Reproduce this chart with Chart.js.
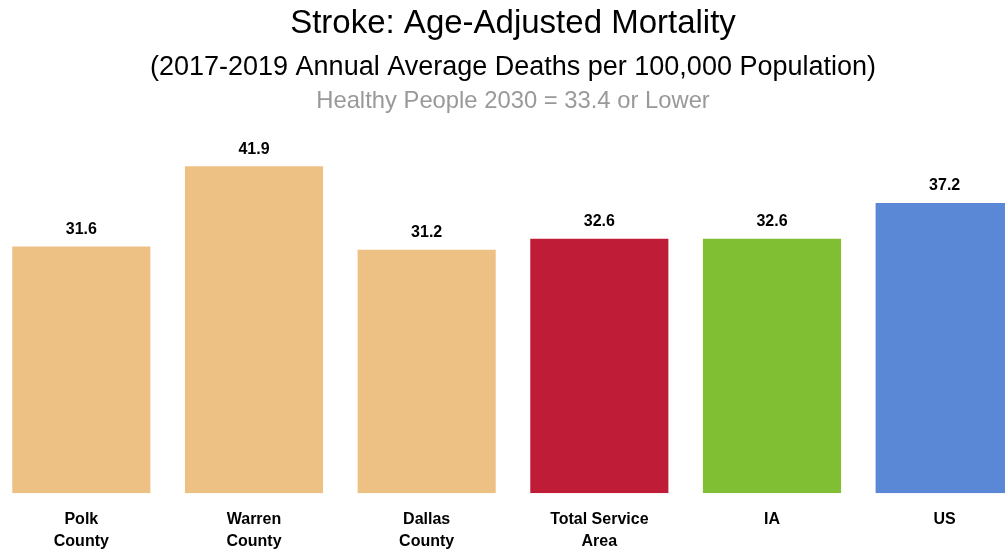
<!DOCTYPE html>
<html>
<head>
<meta charset="utf-8">
<script src="https://cdn.jsdelivr.net/npm/chart.js@4/dist/chart.umd.min.js"></script>
<style>
  html, body { margin: 0; padding: 0; overflow: hidden; background: #fff; }
  #wrap { position: absolute; left: -5px; top: 0; width: 1036px; height: 550px; }
</style>
</head>
<body>
<div id="wrap"><canvas id="chart"></canvas></div>
<script>
"use strict";

var categories = [
  ["Polk", "County"],
  ["Warren", "County"],
  ["Dallas", "County"],
  ["Total Service", "Area"],
  ["IA"],
  ["US"]
];
var deathRates = [31.6, 41.9, 31.2, 32.6, 32.6, 37.2];
var barColors = ["#EDC184", "#EDC184", "#EDC184", "#BF1C37", "#80BF33", "#5B87D7"];
var titleLines = [
  "Stroke: Age-Adjusted Mortality",
  "(2017-2019 Annual Average Deaths per 100,000 Population)",
  "Healthy People 2030 = 33.4 or Lower"
];

var FONT = "'Liberation Sans Narrow', 'Arial Narrow', 'Liberation Sans', sans-serif";

// header text + value labels
var labelPlugin = {
  id: "labels",
  afterDraw: function(chart) {
    var ctx = chart.ctx;
    var cx = chart.width / 2;
    ctx.save();
    ctx.textAlign = "center";
    ctx.textBaseline = "middle";
    ctx.fillStyle = "#000";
    ctx.font = "33px " + FONT;
    ctx.fillText(titleLines[0], cx, 24);
    ctx.font = "27px " + FONT;
    ctx.fillText(titleLines[1], cx, 68);
    ctx.fillStyle = "#999";
    ctx.font = "23.8px " + FONT;
    ctx.fillText(titleLines[2], cx, 101);

    ctx.fillStyle = "#000";
    ctx.font = "bold 16px " + FONT;
    var meta = chart.getDatasetMeta(0);
    meta.data.forEach(function(bar, i) {
      ctx.fillText(deathRates[i].toFixed(1), bar.x, bar.y - 17);
    });
    ctx.restore();
  }
};

new Chart(document.getElementById("chart"), {
  type: "bar",
  data: {
    labels: categories,
    datasets: [
      {
        data: deathRates,
        backgroundColor: barColors,
        borderWidth: 0,
        barPercentage: 0.8,
        categoryPercentage: 1.0
      }
    ]
  },
  options: {
    responsive: true,
    maintainAspectRatio: false,
    animation: false,
    layout: {
      padding: { top: 103, left: 0, right: 0, bottom: -18 }
    },
    plugins: {
      legend: { display: false },
      tooltip: { enabled: false }
    },
    scales: {
      x: {
        grid: { display: false, drawTicks: false },
        border: { display: false },
        ticks: {
          color: "#000",
          padding: 15,
          maxRotation: 0,
          autoSkip: false,
          font: { family: FONT, size: 16, weight: "bold", lineHeight: 1.4 }
        }
      },
      y: {
        display: false,
        min: 0,
        max: 50
      }
    }
  },
  plugins: [labelPlugin]
});
</script>
</body>
</html>
